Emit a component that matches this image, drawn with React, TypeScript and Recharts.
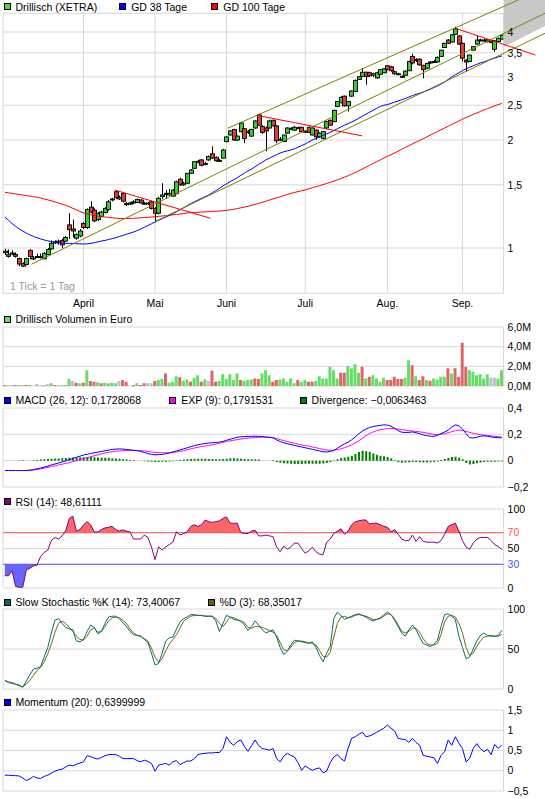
import React from 'react';
import {
  ComposedChart,
  Bar,
  Line,
  Area,
  XAxis,
  YAxis,
  CartesianGrid,
  ReferenceLine,
  Cell,
} from 'recharts';

// one entry per XETRA trading day, 2 March - 16 September
const opens = [
  0.98, 0.948, 0.965, 0.96, 0.935, 0.905, 0.9, 0.985, 0.938, 0.945,
  0.944, 0.933, 0.958, 0.995, 1.035, 1.045, 1.05, 1.045, 1.16, 1.13,
  1.065, 1.08, 1.17, 1.14, 1.3, 1.275, 1.2, 1.225, 1.255, 1.28,
  1.365, 1.435, 1.37, 1.42, 1.32, 1.325, 1.345, 1.34, 1.36, 1.33,
  1.335, 1.345, 1.29, 1.25, 1.39, 1.42, 1.405, 1.395, 1.42, 1.555,
  1.5, 1.515, 1.615, 1.668, 1.74, 1.76, 1.71, 1.76, 1.83, 1.79,
  1.75, 1.78, 1.98, 2.065, 2.14, 2.0, 2.11, 2.15, 2.1, 2.05,
  2.16, 2.35, 2.18, 2.16, 2.16, 2.27, 2.19, 2.0, 1.98, 2.09,
  2.15, 2.13, 2.16, 2.17, 2.11, 2.17, 2.065, 2.13, 2.04, 2.02,
  2.16, 2.27, 2.25, 2.48, 2.54, 2.65, 2.49, 2.65, 2.73, 2.95,
  3.01, 3.09, 3.08, 3.03, 2.98, 3.05, 3.08, 3.22, 3.2, 3.1,
  3.06, 3.01, 3.03, 3.12, 3.42, 3.33, 3.36, 3.23, 3.17, 3.28,
  3.3, 3.3, 3.42, 3.62, 3.8, 3.75, 3.94, 3.9, 3.72, 3.34,
  3.31, 3.56, 3.7, 3.79, 3.8, 3.8, 3.78, 3.58, 3.76, 3.82,
];
const highs = [
  0.995, 0.99, 0.985, 0.972, 0.94, 0.912, 0.94, 0.992, 0.95, 0.965,
  0.965, 0.975, 1.0, 1.05, 1.05, 1.055, 1.06, 1.08, 1.25, 1.2,
  1.1, 1.13, 1.18, 1.29, 1.35, 1.29, 1.26, 1.27, 1.3, 1.36,
  1.38, 1.45, 1.4, 1.43, 1.345, 1.345, 1.36, 1.375, 1.37, 1.345,
  1.34, 1.355, 1.3, 1.39, 1.515, 1.45, 1.46, 1.46, 1.54, 1.57,
  1.53, 1.62, 1.66, 1.745, 1.76, 1.77, 1.74, 1.81, 1.92, 1.8,
  1.77, 1.89, 2.05, 2.13, 2.15, 2.06, 2.24, 2.16, 2.13, 2.15,
  2.27, 2.37, 2.2, 2.18, 2.28, 2.28, 2.2, 2.04, 2.07, 2.17,
  2.17, 2.19, 2.18, 2.18, 2.13, 2.18, 2.17, 2.14, 2.1, 2.12,
  2.26, 2.28, 2.43, 2.57, 2.65, 2.66, 2.57, 2.75, 2.95, 3.01,
  3.17, 3.1, 3.1, 3.08, 3.1, 3.15, 3.17, 3.23, 3.22, 3.12,
  3.08, 3.03, 3.13, 3.33, 3.48, 3.38, 3.38, 3.24, 3.28, 3.32,
  3.34, 3.42, 3.57, 3.73, 3.82, 3.95, 4.14, 3.92, 3.74, 3.36,
  3.46, 3.65, 3.9, 3.83, 3.83, 3.82, 3.8, 3.8, 3.86, 3.94,
];
const lows = [
  0.955, 0.94, 0.955, 0.94, 0.89, 0.885, 0.895, 0.93, 0.925, 0.94,
  0.935, 0.93, 0.955, 0.99, 1.025, 1.02, 1.0, 1.04, 1.06, 1.07,
  1.055, 1.07, 1.13, 1.13, 1.25, 1.18, 1.19, 1.22, 1.25, 1.27,
  1.35, 1.37, 1.36, 1.34, 1.31, 1.32, 1.325, 1.335, 1.33, 1.32,
  1.32, 1.28, 1.18, 1.24, 1.37, 1.37, 1.4, 1.39, 1.41, 1.49,
  1.49, 1.51, 1.61, 1.66, 1.72, 1.69, 1.7, 1.75, 1.77, 1.74,
  1.74, 1.775, 1.97, 2.055, 1.99, 1.99, 2.1, 1.96, 2.08, 2.04,
  2.15, 2.19, 2.08, 1.86, 2.15, 2.18, 1.96, 1.99, 1.975, 2.08,
  2.14, 2.12, 2.15, 2.1, 2.1, 2.09, 2.06, 2.0, 2.03, 2.01,
  2.15, 2.19, 2.24, 2.47, 2.53, 2.48, 2.4, 2.64, 2.72, 2.94,
  3.0, 2.85, 3.0, 3.0, 2.96, 3.04, 3.07, 3.13, 3.1, 3.04,
  3.03, 2.98, 3.02, 3.11, 3.25, 3.3, 3.22, 2.97, 3.15, 3.26,
  3.28, 3.29, 3.41, 3.61, 3.71, 3.74, 3.93, 3.68, 3.31, 3.1,
  3.3, 3.55, 3.69, 3.77, 3.76, 3.74, 3.72, 3.52, 3.75, 3.81,
];
const closes = [
  0.97, 0.958, 0.968, 0.948, 0.902, 0.89, 0.935, 0.946, 0.935, 0.947,
  0.946, 0.966, 0.99, 1.03, 1.04, 1.035, 1.02, 1.07, 1.125, 1.115,
  1.09, 1.115, 1.14, 1.28, 1.26, 1.19, 1.25, 1.26, 1.29, 1.345,
  1.37, 1.38, 1.385, 1.35, 1.33, 1.335, 1.335, 1.365, 1.335, 1.333,
  1.33, 1.29, 1.25, 1.375, 1.405, 1.41, 1.42, 1.45, 1.53, 1.5,
  1.515, 1.615, 1.65, 1.74, 1.745, 1.7, 1.72, 1.8, 1.78, 1.75,
  1.755, 1.876, 2.04, 2.12, 2.0, 2.05, 2.23, 2.02, 2.115, 2.14,
  2.26, 2.2, 2.1, 2.12, 2.26, 2.19, 1.99, 2.01, 2.065, 2.16,
  2.155, 2.17, 2.165, 2.11, 2.115, 2.1, 2.16, 2.04, 2.09, 2.11,
  2.25, 2.2, 2.42, 2.56, 2.63, 2.49, 2.56, 2.74, 2.93, 3.0,
  3.09, 3.01, 3.02, 3.06, 3.08, 3.14, 3.16, 3.14, 3.12, 3.06,
  3.05, 3.0, 3.11, 3.31, 3.28, 3.35, 3.24, 3.14, 3.27, 3.3,
  3.31, 3.4, 3.56, 3.72, 3.72, 3.93, 4.08, 3.7, 3.38, 3.3,
  3.45, 3.64, 3.8, 3.8, 3.79, 3.76, 3.74, 3.78, 3.84, 3.92,
];
const gd38 = [
  1.22, 1.195, 1.17, 1.15, 1.13, 1.115, 1.1, 1.088, 1.077, 1.068,
  1.06, 1.053, 1.047, 1.042, 1.038, 1.035, 1.032, 1.03, 1.03, 1.029,
  1.028, 1.027, 1.026, 1.027, 1.03, 1.035, 1.04, 1.046, 1.05, 1.056,
  1.062, 1.068, 1.076, 1.084, 1.092, 1.1, 1.108, 1.118, 1.13, 1.142,
  1.155, 1.168, 1.182, 1.195, 1.208, 1.22, 1.232, 1.248, 1.262, 1.278,
  1.295, 1.312, 1.33, 1.345, 1.36, 1.375, 1.39, 1.405, 1.425, 1.445,
  1.465, 1.49, 1.51, 1.53, 1.55, 1.57, 1.595, 1.615, 1.64, 1.66,
  1.685, 1.71, 1.735, 1.76, 1.78, 1.8, 1.82, 1.84, 1.855, 1.865,
  1.876, 1.89, 1.91, 1.93, 1.95, 1.975, 2.0, 2.02, 2.04, 2.06,
  2.08, 2.1, 2.125, 2.15, 2.175, 2.2, 2.22, 2.245, 2.27, 2.3,
  2.33, 2.36, 2.39, 2.42, 2.45, 2.48, 2.5, 2.51, 2.53, 2.55,
  2.57, 2.59, 2.61, 2.635, 2.66, 2.68, 2.7, 2.72, 2.745, 2.77,
  2.8, 2.83, 2.865, 2.9, 2.95, 3.0, 3.04, 3.08, 3.12, 3.16,
  3.19, 3.22, 3.25, 3.28, 3.3, 3.33, 3.36, 3.38, 3.41, 3.43,
];
const gd100 = [
  1.43, 1.425, 1.42, 1.415, 1.41, 1.405, 1.4, 1.395, 1.39, 1.385,
  1.378, 1.37, 1.362, 1.353, 1.345, 1.335, 1.325, 1.315, 1.304, 1.29,
  1.278, 1.265, 1.252, 1.245, 1.238, 1.232, 1.227, 1.223, 1.22, 1.217,
  1.214, 1.211, 1.209, 1.208, 1.208, 1.209, 1.21, 1.212, 1.214, 1.216,
  1.218, 1.22, 1.222, 1.225, 1.228, 1.231, 1.234, 1.237, 1.24, 1.244,
  1.248, 1.252, 1.255, 1.257, 1.258, 1.26, 1.261, 1.263, 1.265, 1.266,
  1.268, 1.27, 1.273, 1.277, 1.282, 1.288, 1.294, 1.3, 1.307, 1.315,
  1.323, 1.332, 1.341, 1.35, 1.36, 1.37, 1.38, 1.39, 1.4, 1.41,
  1.42, 1.428, 1.436, 1.444, 1.452, 1.462, 1.472, 1.482, 1.492, 1.502,
  1.513, 1.524, 1.536, 1.549, 1.562, 1.576, 1.59, 1.606, 1.623, 1.641,
  1.66, 1.68, 1.7, 1.72, 1.74, 1.76, 1.78, 1.8, 1.82, 1.84,
  1.862, 1.884, 1.906, 1.928, 1.95, 1.972, 1.994, 2.016, 2.04, 2.064,
  2.088, 2.112, 2.136, 2.16, 2.185, 2.21, 2.235, 2.26, 2.285, 2.31,
  2.333, 2.356, 2.379, 2.402, 2.425, 2.447, 2.469, 2.49, 2.51, 2.53,
];
// Mio. Euro
const volume = [
  0.1, 0.1, 0.1, 0.1, 0.1, 0.1, 0.1, 0.1, 0.03, 0.2,
  0.1, 0.1, 0.2, 0.27, 0.1, 0.1, 0.1, 0.1, 0.7, 0.5,
  0.34, 0.27, 0.34, 1.6, 0.5, 0.44, 0.37, 0.27, 0.34, 0.27,
  0.34, 0.27, 0.5, 0.6, 0.44, 0.03, 0.1, 0.27, 0.1, 0.27,
  0.27, 0.27, 0.5, 0.6, 0.7, 1.28, 0.34, 0.44, 1.0, 0.88,
  0.54, 0.67, 0.44, 0.84, 1.1, 0.44, 0.67, 0.5, 1.55, 0.44,
  0.5, 1.2, 0.7, 1.2, 0.6, 1.28, 0.6, 0.54, 0.6, 0.67,
  0.77, 0.7, 1.28, 1.6, 1.1, 0.44, 0.6, 0.67, 0.77, 0.44,
  0.77, 0.27, 0.6, 0.44, 0.6, 0.44, 0.44, 0.5, 1.0, 0.77,
  0.77, 1.95, 1.6, 0.77, 1.35, 1.35, 2.0, 1.8, 2.2, 1.35,
  1.95, 0.77, 0.94, 1.1, 0.77, 0.44, 0.84, 0.6, 0.6, 0.94,
  0.7, 0.7, 0.84, 2.63, 2.1, 1.0, 0.6, 1.0, 0.6, 0.54,
  0.77, 0.67, 0.94, 0.94, 1.8, 1.28, 1.8, 0.94, 4.4, 1.95,
  1.6, 1.44, 1.1, 1.2, 0.77, 1.2, 0.84, 0.84, 0.74, 1.6,
];
// 1 = up day, -1 = down day, 0 = unchanged
const volDir = [
  -1, 0, 0, -1, 1, 0, -1, 1, 0, 0,
  0, 1, 0, 1, -1, 0, 1, 1, 1, 0,
  -1, 1, -1, 1, -1, -1, 1, -1, 1, 1,
  1, 1, 0, -1, -1, 0, -1, 1, -1, -1,
  0, 0, -1, 1, 1, -1, 1, 1, 1, -1,
  1, 1, -1, 1, 1, -1, 1, 0, -1, -1,
  1, 1, 1, 1, 1, 1, -1, 1, 1, 1,
  -1, -1, 1, 1, 1, -1, -1, 1, 1, 1,
  1, 1, -1, 1, 1, -1, -1, 1, 1, 1,
  1, 1, 1, 1, -1, -1, 1, 1, 1, 1,
  -1, 1, -1, 1, 1, 1, 1, -1, -1, -1,
  -1, -1, 1, 1, -1, 1, -1, -1, 1, -1,
  1, 1, 1, 1, -1, 1, -1, -1, -1, -1,
  1, 1, 1, 1, 1, 1, 0, 0, 1, 1,
];
const macd = [
  -0.075, -0.075, -0.075, -0.075, -0.075, -0.075, -0.074, -0.072, -0.068, -0.062,
  -0.056, -0.049, -0.042, -0.032, -0.025, -0.018, -0.01, -0.002, 0.008, 0.016,
  0.026, 0.034, 0.043, 0.048, 0.055, 0.06, 0.065, 0.07, 0.075, 0.08,
  0.085, 0.088, 0.089, 0.088, 0.085, 0.082, 0.079, 0.076, 0.07, 0.062,
  0.054, 0.048, 0.044, 0.046, 0.048, 0.052, 0.058, 0.066, 0.074, 0.082,
  0.09, 0.098, 0.106, 0.114, 0.121, 0.126, 0.13, 0.134, 0.136, 0.138,
  0.141, 0.146, 0.155, 0.163, 0.17, 0.178, 0.181, 0.183, 0.184, 0.185,
  0.186, 0.185, 0.183, 0.18, 0.177, 0.174, 0.158, 0.145, 0.136, 0.128,
  0.122, 0.116, 0.11, 0.104, 0.098, 0.092, 0.086, 0.08, 0.074, 0.068,
  0.066, 0.07, 0.078, 0.094, 0.112, 0.128, 0.14, 0.158, 0.18, 0.205,
  0.225, 0.24, 0.252, 0.26, 0.264, 0.268, 0.272, 0.27, 0.262, 0.245,
  0.228, 0.216, 0.214, 0.215, 0.218, 0.212, 0.205, 0.196, 0.19, 0.186,
  0.185, 0.192, 0.205, 0.218, 0.232, 0.255, 0.272, 0.265, 0.24, 0.205,
  0.175, 0.172, 0.178, 0.185, 0.188, 0.186, 0.18, 0.176, 0.175, 0.173,
];
const macdSignal = [
  null, null, null, null, null, null, -0.076, -0.074, -0.071, -0.067,
  -0.062, -0.057, -0.051, -0.045, -0.039, -0.033, -0.027, -0.021, -0.015, -0.008,
  0.0, 0.008, 0.016, 0.023, 0.03, 0.037, 0.044, 0.052, 0.058, 0.064,
  0.068, 0.072, 0.074, 0.076, 0.077, 0.078, 0.078, 0.077, 0.076, 0.074,
  0.07, 0.066, 0.063, 0.061, 0.06, 0.06, 0.061, 0.063, 0.066, 0.07,
  0.076, 0.083, 0.09, 0.096, 0.102, 0.107, 0.111, 0.115, 0.12, 0.126,
  0.132, 0.14, 0.146, 0.151, 0.155, 0.16, 0.164, 0.168, 0.171, 0.174,
  0.176, 0.177, 0.178, 0.178, 0.177, 0.174, 0.168, 0.16, 0.152, 0.145,
  0.138, 0.132, 0.126, 0.12, 0.115, 0.11, 0.104, 0.098, 0.092, 0.086,
  0.081, 0.079, 0.08, 0.084, 0.09, 0.098, 0.108, 0.12, 0.135, 0.152,
  0.17, 0.19, 0.205, 0.218, 0.228, 0.235, 0.24, 0.243, 0.244, 0.243,
  0.24, 0.236, 0.232, 0.228, 0.225, 0.222, 0.219, 0.215, 0.21, 0.205,
  0.2, 0.198, 0.2, 0.205, 0.212, 0.22, 0.228, 0.232, 0.23, 0.222,
  0.215, 0.208, 0.202, 0.198, 0.194, 0.191, 0.188, 0.185, 0.182, 0.179,
];
const macdDiv = [
  null, null, null, null, 0.004, 0.004, null, null, 0.004, 0.006,
  0.008, 0.01, 0.012, 0.014, 0.016, 0.016, 0.018, 0.02, 0.022, 0.024,
  0.024, 0.026, 0.026, 0.027, 0.028, 0.026, 0.024, 0.022, 0.022, 0.02,
  0.018, 0.016, 0.014, 0.01, 0.008, 0.006, 0.004, null, null, -0.004,
  -0.006, -0.008, -0.01, -0.01, -0.009, -0.008, -0.006, -0.004, 0.004, 0.006,
  0.008, 0.01, 0.012, 0.014, 0.014, 0.014, 0.014, 0.013, 0.012, 0.01,
  0.01, 0.012, 0.015, 0.018, 0.018, 0.016, 0.014, 0.012, 0.01, 0.01,
  0.01, 0.008, null, null, null, 0.004, -0.01, -0.015, -0.02, -0.022,
  -0.024, -0.025, -0.025, -0.025, -0.024, -0.024, -0.024, -0.024, -0.023, -0.022,
  -0.018, -0.01, -0.004, 0.01, 0.02, 0.025, 0.03, 0.038, 0.05, 0.065,
  0.075, 0.072, 0.068, 0.055, 0.045, 0.038, 0.033, 0.028, 0.018, 0.004,
  -0.012, -0.016, -0.014, -0.012, -0.01, -0.01, -0.012, -0.014, -0.014, -0.012,
  -0.01, -0.006, 0.006, 0.012, 0.02, 0.028, 0.03, 0.022, 0.01, -0.018,
  -0.03, -0.026, -0.02, -0.014, -0.01, -0.008, -0.008, -0.008, -0.007, -0.006,
];
const rsi = [
  15.5, 15.5, 21.8, 2, 1, 1, 23, 25, 28, 29,
  40, 45, 48, 60, 64, 62, 66, 72, 88, 91,
  72, 74, 80, 84, 80, 71, 71, 74, 76, 77,
  78, 74, 72, 73.5, 72, 71, 62, 62, 62, 67,
  64, 52, 36, 52, 48, 52, 55, 58, 71, 67,
  69, 71, 78, 80, 78, 80, 86, 84, 83, 84,
  85, 88, 90, 82, 82, 82, 70, 69, 69, 72,
  73, 66, 66, 67, 66, 65, 52, 46, 53, 49,
  52, 57, 56.7, 50, 44, 47, 51.7, 46, 43, 42,
  58, 62, 69, 72, 75, 68, 72, 80, 84, 85,
  86, 86, 81, 82, 82, 80, 78, 77, 71, 74,
  68, 62, 60, 60, 67, 59, 65, 59, 58, 58,
  58, 57, 60, 68, 78, 80, 82, 72, 60, 52,
  49, 57, 62, 64, 64, 64, 60, 55, 52.5, 48.6,
];
const stochK = [
  11, 8, 7, 6, 5, 2, 10, 18, 25, 26,
  28, 40, 52, 70, 86, 88, 82, 77, 75, 74,
  60, 59, 62, 72, 80, 77, 69, 72, 82, 90,
  91, 91, 88, 83, 78, 72, 68, 67, 66, 62,
  58, 45, 30, 32, 45, 60, 64, 65, 75, 84,
  88, 90, 93, 93, 92, 92, 91, 91, 91, 85,
  72, 82, 92, 90, 87, 86, 85, 80, 73, 78,
  85, 80, 74, 70, 72, 74, 65, 52, 43, 47,
  55, 61, 60, 59, 58, 57, 59, 52, 42, 34,
  45, 53, 88, 96, 92, 87, 89, 91, 93, 94,
  92, 90, 87, 85, 87, 89, 93, 96, 93, 86,
  78, 70, 66, 74, 80, 74, 65, 57, 55, 53,
  56, 61, 78, 93, 94, 91, 87, 66, 52, 38,
  40, 50, 60, 67, 70, 67, 66, 66, 67, 73.4,
];
const stochD = [
  10.5, 9, 8, 6, 4, 3, 6, 11, 17, 23,
  27, 34, 44, 56, 71, 82, 85, 82, 77, 72,
  66, 62, 61, 66, 74, 76, 71, 72, 78, 85,
  89, 90, 89, 86, 82, 75, 70, 67, 66, 63,
  60, 51, 40, 33, 38, 48, 56, 62, 68, 76,
  85, 88, 91, 92, 92, 92, 91, 91, 91, 88,
  82, 78, 84, 90, 89, 87, 85, 83, 77, 76,
  78, 78, 77, 75, 73, 71, 67, 58, 49, 48,
  52, 58, 60, 60, 59, 58, 57, 55, 48, 41,
  40, 46, 65, 82, 90, 91, 89, 90, 92, 93,
  92, 91, 89, 87, 87, 88, 91, 94, 93, 88,
  80, 72, 70, 72, 76, 76, 71, 63, 57, 55,
  55, 57, 68, 84, 91, 92, 90, 82, 70, 52,
  42, 45, 53, 60, 65, 66, 67, 66, 66, 68.35,
];
const momentum = [
  -0.11, -0.11, -0.12, -0.12, -0.13, -0.18, -0.24, -0.2, -0.14, -0.18,
  -0.19, -0.14, -0.11, -0.06, -0.01, 0.02, 0.04, 0.09, 0.14, 0.12,
  0.16, 0.19, 0.22, 0.37, 0.35, 0.31, 0.29, 0.33, 0.37, 0.4,
  0.4, 0.4, 0.36, 0.3, 0.3, 0.3, 0.3, 0.25, 0.22, 0.26,
  0.23, 0.18, -0.01, 0.14, 0.16, 0.18, 0.14, 0.22, 0.25, 0.15,
  0.2, 0.24, 0.24, 0.3, 0.4, 0.42, 0.43, 0.44, 0.44, 0.45,
  0.45, 0.55, 0.84, 0.7, 0.63, 0.72, 0.76, 0.6, 0.48, 0.62,
  0.76, 0.62, 0.55, 0.53, 0.51, 0.55, 0.3, 0.22, 0.36, 0.43,
  0.38, 0.34, 0.2, 0.01, 0.12, 0.06, 0.01, 0.05, 0.07, -0.05,
  -0.01, 0.2, 0.34, 0.4, 0.3, 0.24, 0.55, 0.8, 0.84, 0.9,
  0.95, 0.84, 0.86, 0.9, 0.95, 1.0, 1.05, 1.13, 1.05, 0.98,
  0.8, 0.78, 0.77, 0.7, 0.8, 0.7, 0.63, 0.38, 0.36, 0.34,
  0.32, 0.18, 0.38, 0.47, 0.76, 0.63, 0.84, 0.68, 0.55, 0.22,
  0.3, 0.55, 0.67, 0.55, 0.47, 0.53, 0.4, 0.65, 0.55, 0.64,
];

// first trading day of each month (index) and its label
const monthTicks = [22, 42, 62, 84, 107, 128];
const monthLabels = ['April', 'Mai', 'Juni', 'Juli', 'Aug.', 'Sep.'];
const priceTicks = [1, 1.5, 2, 2.5, 3, 3.5, 4];
const priceDomain = [0.7477, 4.51];
// drawn trend lines: [day, price, day, price]
const channelLines = [
  [62.3, 2.156, 151.1, 5.3],
  [7.4, 0.9007, 151.1, 4.513],
  [42, 1.185, 151.1, 3.967],
];
const resistanceLines = [
  [30.7, 1.451, 57.5, 1.21],
  [71.1, 2.337, 100, 2.053],
  [126, 4.096, 148.4, 3.451],
];
const forecastEdge = [139.5, 3.63, 151.1, 4.16];

const rows = closes.map((close, i) => ({
  day: i,
  open: opens[i],
  high: highs[i],
  low: lows[i],
  close,
  gd38: gd38[i],
  gd100: gd100[i],
  vol: volume[i],
  dir: volDir[i],
  macd: macd[i],
  signal: macdSignal[i],
  div: macdDiv[i],
  rsi: rsi[i],
  k: stochK[i],
  d: stochD[i],
  mom: momentum[i],
}));

const FONT = '"Liberation Sans", Arial, sans-serif';
const GRID = '#d8d8d8';
const FS = 10.5;
const xDomain = [-0.5, 139.5];
const xTicks = [xDomain[0], ...monthTicks, xDomain[1]];
const tickStyle = { fontSize: FS, fill: '#000', fontFamily: FONT };

const de = (v: number, digits?: number) =>
  (digits == null ? String(v) : v.toFixed(digits)).replace('.', ',').replace('-', '\u2212');

const monthFmt = (v: number) => {
  const k = monthTicks.indexOf(v);
  return k < 0 ? '' : monthLabels[k];
};

const Candle = (props: any) => {
  const { x, y, width, height, payload } = props;
  if (x == null || y == null) return null;
  const top = Math.min(y, y + height);
  const bot = Math.max(y, y + height);
  const cx = Math.round(x + width / 2) + 0.5;
  const lh = Math.log(payload.high);
  const span = lh - Math.log(payload.low) || 1;
  const py = (v: number) => top + ((lh - Math.log(v)) / span) * (bot - top);
  const yo = py(payload.open);
  const yc = py(payload.close);
  const up = payload.close >= payload.open;
  return (
    <g>
      <line x1={cx} x2={cx} y1={top} y2={bot} stroke="#000" strokeWidth={1} />
      <rect
        x={cx - 2}
        y={Math.min(yo, yc)}
        width={4}
        height={Math.max(Math.abs(yo - yc), 1)}
        fill={up ? '#33cc33' : '#dd3a3a'}
        stroke="#000"
        strokeWidth={0.9}
      />
    </g>
  );
};

const RsiTick = (p: any) => {
  const v = p.payload.value;
  const fill = v === 70 ? '#ff5555' : v === 30 ? '#5555ff' : '#000';
  return (
    <text x={p.x} y={p.y} dy="0.355em" textAnchor="start" fontSize={FS} fontFamily={FONT} fill={fill}>
      {v}
    </text>
  );
};

const hiddenX = () => (
  <XAxis
    dataKey="day"
    type="number"
    domain={xDomain}
    ticks={xTicks}
    interval={0}
    tick={false}
    axisLine={false}
    tickLine={false}
    height={0}
    allowDataOverflow
  />
);

const rightY = (domain: number[], ticks: number[], fmt?: (v: number) => string, tick?: any) => (
  <YAxis
    orientation="right"
    type="number"
    domain={domain}
    ticks={ticks}
    interval={0}
    width={41.4}
    axisLine={false}
    tickLine={false}
    tickSize={0}
    tickMargin={4}
    tick={tick || tickStyle}
    tickFormatter={fmt}
    allowDataOverflow
  />
);

type Item = { x: number; color: string; label: string };
const LegendRow = ({ y, items }: { y: number; items: Item[] }) => (
  <>
    {items.map((it) => (
      <div
        key={it.label}
        style={{
          position: 'absolute',
          left: it.x,
          top: y - 7,
          height: 14,
          display: 'flex',
          alignItems: 'center',
          whiteSpace: 'nowrap',
          fontSize: FS,
          color: '#000',
        }}
      >
        <span
          style={{
            display: 'inline-block',
            width: 7,
            height: 7,
            boxSizing: 'border-box',
            background: it.color,
            border: '1px solid #000',
          }}
        />
        <span style={{ marginLeft: 5 }}>{it.label}</span>
      </div>
    ))}
  </>
);

const subMargin = { top: 6, right: 0, bottom: 6, left: 3.1 };
const abs = (top: number): React.CSSProperties => ({ position: 'absolute', left: 0, top });

export default function App() {
  return (
    <div
      style={{
        position: 'absolute',
        left: 0,
        top: 0,
        width: 545,
        height: 799,
        background: '#fff',
        overflow: 'hidden',
        fontFamily: FONT,
      }}
    >
      {/* price chart */}
      <div style={abs(0)}>
        <ComposedChart width={545} height={310} data={rows} margin={{ top: 13.3, right: 0, bottom: 0, left: 3.1 }}>
          <CartesianGrid stroke={GRID} />
          <XAxis
            dataKey="day"
            type="number"
            domain={xDomain}
            ticks={xTicks}
            interval={0}
            tickFormatter={monthFmt}
            height={16.7}
            axisLine={false}
            tickLine={false}
            tickSize={0}
            tickMargin={6}
            tick={tickStyle}
            allowDataOverflow
          />
          <YAxis
            orientation="right"
            scale="log"
            type="number"
            domain={priceDomain}
            ticks={[priceDomain[0], ...priceTicks, priceDomain[1]]}
            interval={0}
            tickFormatter={(v: number) => (priceTicks.includes(v) ? de(v) : '')}
            width={41.4}
            axisLine={false}
            tickLine={false}
            tickSize={0}
            tickMargin={4}
            tick={tickStyle}
            allowDataOverflow
          />
          <ReferenceLine
            segment={[
              { x: forecastEdge[0], y: forecastEdge[1] },
              { x: forecastEdge[2], y: forecastEdge[3] },
            ]}
            ifOverflow="visible"
            shape={(p: any) => (
              <polygon
                points={`${p.x1},0 ${p.x2},0 ${p.x2},${p.y2} ${p.x1},${p.y1}`}
                fill="#c8c8c8"
              />
            )}
          />
          <Line dataKey="gd100" stroke="#ff0000" strokeWidth={1} dot={false} activeDot={false} isAnimationActive={false} />
          <Line dataKey="gd38" stroke="#0000ff" strokeWidth={1} dot={false} activeDot={false} isAnimationActive={false} />
          {channelLines.map((l, n) => (
            <ReferenceLine
              key={`c${n}`}
              segment={[{ x: l[0], y: l[1] }, { x: l[2], y: l[3] }]}
              stroke="#808000"
              strokeWidth={1}
              ifOverflow="visible"
            />
          ))}
          {resistanceLines.map((l, n) => (
            <ReferenceLine
              key={`r${n}`}
              segment={[{ x: l[0], y: l[1] }, { x: l[2], y: l[3] }]}
              stroke="#ff0000"
              strokeWidth={1}
              ifOverflow="visible"
            />
          ))}
          <Bar
            dataKey={(r: any) => [r.low, r.high]}
            barSize={4}
            shape={Candle}
            isAnimationActive={false}
          />
        </ComposedChart>
      </div>
      <div style={{ position: 'absolute', left: 10, top: 280, fontSize: FS, color: '#999' }}>1 Tick = 1 Tag</div>

      {/* volume */}
      <div style={abs(321)}>
        <ComposedChart width={545} height={71} data={rows} margin={subMargin}>
          <CartesianGrid stroke={GRID} />
          {hiddenX()}
          {rightY([0, 6], [0, 2, 4, 6], (v) => de(v, 1) + 'M')}
          <Bar dataKey="vol" barSize={3} isAnimationActive={false}>
            {rows.map((r) => (
              <Cell key={r.day} fill={r.dir > 0 ? '#66dd66' : r.dir < 0 ? '#dd6666' : '#c0c0c0'} />
            ))}
          </Bar>
        </ComposedChart>
      </div>

      {/* MACD */}
      <div style={abs(402)}>
        <ComposedChart width={545} height={91} data={rows} margin={subMargin}>
          <CartesianGrid stroke={GRID} />
          {hiddenX()}
          {rightY([-0.2, 0.4], [-0.2, 0, 0.2, 0.4], (v) => de(v))}
          <Bar dataKey="div" fill="#008000" barSize={2} isAnimationActive={false} />
          <Line dataKey="signal" stroke="#ff00ff" strokeWidth={1} dot={false} activeDot={false} isAnimationActive={false} />
          <Line dataKey="macd" stroke="#0000ff" strokeWidth={1} dot={false} activeDot={false} isAnimationActive={false} />
        </ComposedChart>
      </div>

      {/* RSI */}
      <div style={abs(503)}>
        <ComposedChart width={545} height={91} data={rows} margin={subMargin}>
          <CartesianGrid stroke={GRID} />
          {hiddenX()}
          {rightY([0, 100], [0, 30, 50, 70, 100], undefined, <RsiTick />)}
          <Area
            dataKey={(r: any) => [70, Math.max(r.rsi, 70)]}
            fill="#ff6666"
            fillOpacity={1}
            stroke="none"
            isAnimationActive={false}
          />
          <Area
            dataKey={(r: any) => [Math.min(r.rsi, 30), 30]}
            fill="#6666ff"
            fillOpacity={1}
            stroke="none"
            isAnimationActive={false}
          />
          <ReferenceLine y={70} stroke="#ff5555" strokeWidth={1} />
          <ReferenceLine y={30} stroke="#5555ff" strokeWidth={1} />
          <Line dataKey="rsi" stroke="#800080" strokeWidth={1} dot={false} activeDot={false} isAnimationActive={false} />
        </ComposedChart>
      </div>

      {/* slow stochastic */}
      <div style={abs(603)}>
        <ComposedChart width={545} height={92} data={rows} margin={subMargin}>
          <CartesianGrid stroke={GRID} />
          {hiddenX()}
          {rightY([0, 100], [0, 50, 100])}
          <Line dataKey="d" stroke="#707000" strokeWidth={1} dot={false} activeDot={false} isAnimationActive={false} />
          <Line dataKey="k" stroke="#007070" strokeWidth={1} dot={false} activeDot={false} isAnimationActive={false} />
        </ComposedChart>
      </div>

      {/* momentum */}
      <div style={abs(704)}>
        <ComposedChart width={545} height={93} data={rows} margin={subMargin}>
          <CartesianGrid stroke={GRID} />
          {hiddenX()}
          {rightY([-0.5, 1.5], [-0.5, 0, 0.5, 1, 1.5], (v) => de(v))}
          <Line dataKey="mom" stroke="#0000ff" strokeWidth={1} dot={false} activeDot={false} isAnimationActive={false} />
        </ComposedChart>
      </div>

      <LegendRow
        y={6.7}
        items={[
          { x: 3.5, color: '#44dd44', label: 'Drillisch (XETRA)' },
          { x: 119.2, color: '#0000ff', label: 'GD 38 Tage' },
          { x: 211.3, color: '#ff0000', label: 'GD 100 Tage' },
        ]}
      />
      <LegendRow y={319} items={[{ x: 3.5, color: '#66dd66', label: 'Drillisch Volumen in Euro' }]} />
      <LegendRow
        y={400}
        items={[
          { x: 3.5, color: '#0000ff', label: 'MACD (26, 12): 0,1728068' },
          { x: 169.3, color: '#ff00ff', label: 'EXP (9): 0,1791531' },
          { x: 299.6, color: '#008000', label: 'Divergence: \u22120,0063463' },
        ]}
      />
      <LegendRow y={501.5} items={[{ x: 3.5, color: '#800080', label: 'RSI (14): 48,61111' }]} />
      <LegendRow
        y={602.3}
        items={[
          { x: 3.5, color: '#006666', label: 'Slow Stochastic %K (14): 73,40067' },
          { x: 207.5, color: '#666600', label: '%D (3): 68,35017' },
        ]}
      />
      <LegendRow y={702.3} items={[{ x: 3.5, color: '#0000ff', label: 'Momentum (20): 0,6399999' }]} />
    </div>
  );
}
